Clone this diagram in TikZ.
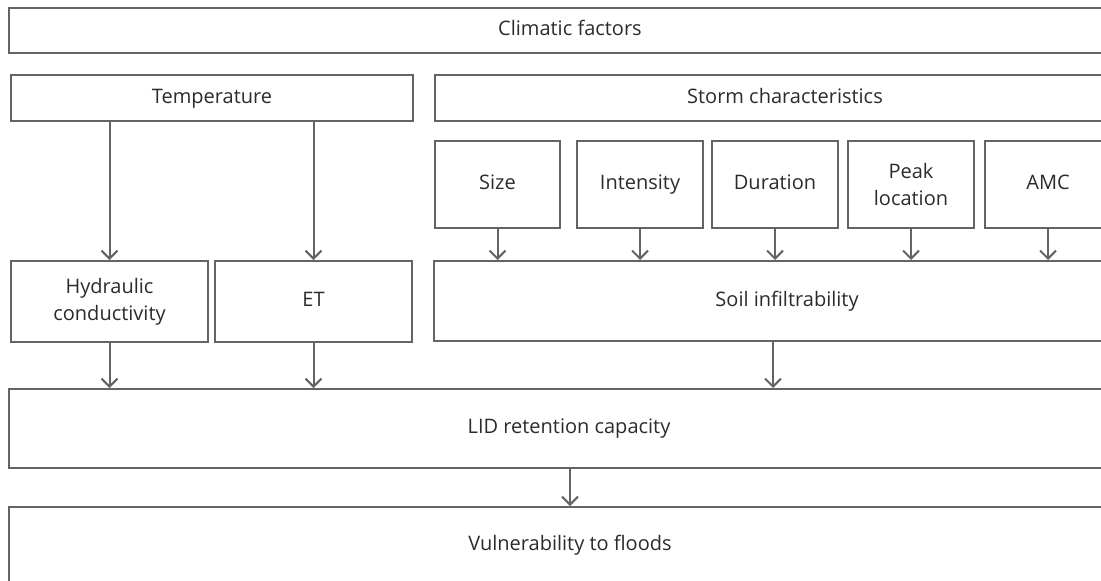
\documentclass[tikz,border=0pt]{standalone}
\usepackage{fontspec}
\setmainfont{Open Sans}
\usetikzlibrary{positioning,arrows.meta}
\definecolor{LineGray}{HTML}{646464}
\definecolor{TextGray}{HTML}{2B2B2B}

\tikzset{
  fbox/.style={draw=LineGray, line width=2pt, anchor=north west, inner sep=0pt,
    align=center, text=TextGray, font=\fontsize{20}{27}\selectfont,
    text height=15pt, text depth=5pt},
  twoline/.style={text height=, text depth=},
  farrow/.style={draw=LineGray, line width=2pt, -{Straight Barb[length=8pt,width=16pt]}}
}

\begin{document}
\begin{tikzpicture}[x=1pt, y=-1pt]
  \useasboundingbox (0,0) rectangle (1101,581);
  \clip (0,0) rectangle (1101,581);
  % top rows
  \node[fbox, minimum width=1122pt, minimum height=45pt] (clim) at (8,7) {Climatic factors};
  \node[fbox, minimum width=402pt, minimum height=46pt] (temp) at (10,74) {Temperature};
  \node[fbox, minimum width=700pt, minimum height=46pt] (storm) at (434,74) {Storm characteristics};
  % storm boxes
  \node[fbox, minimum width=125pt, minimum height=87pt] (size) at (434,140) {Size};
  \node[fbox, minimum width=126pt, minimum height=87pt] (inten) at (576,140) {Intensity};
  \node[fbox, minimum width=126pt, minimum height=87pt] (durat) at (711,140) {Duration};
  \node[fbox, twoline, minimum width=126pt, minimum height=87pt] (peak) at (847,140) {Peak\\location};
  \node[fbox, minimum width=126pt, minimum height=87pt] (amc) at (984,140) {AMC};
  % middle row
  \node[fbox, twoline, minimum width=197pt, minimum height=81pt] (hydr) at (10,260) {Hydraulic\\conductivity};
  \node[fbox, minimum width=197pt, minimum height=81pt] (evap) at (214,260) {ET};
  \node[fbox, minimum width=706pt, minimum height=80pt] (soil) at (433,260) {Soil infiltrability};
  % bottom rows
  \node[fbox, minimum width=1120pt, minimum height=79pt] (lid) at (8,388) {LID retention capacity};
  \node[fbox, minimum width=1122pt, minimum height=76pt] (vuln) at (8,506) {Vulnerability to floods};
  % connectors
  \draw[farrow] (temp.south -| hydr.north) -- (hydr.north);
  \draw[farrow] (temp.south -| evap.north) -- (evap.north);
  \foreach \b in {size,inten,durat,peak,amc}
    \draw[farrow] (\b.south) -- (\b.south |- soil.north);
  \draw[farrow] (hydr.south) -- (hydr.south |- lid.north);
  \draw[farrow] (evap.south) -- (evap.south |- lid.north);
  \coordinate (soilout) at ([xshift=-14pt]soil.south);
  \draw[farrow] (soilout) -- (soilout |- lid.north);
  \draw[farrow] (lid.south -| vuln.north) -- (vuln.north);
\end{tikzpicture}
\end{document}
